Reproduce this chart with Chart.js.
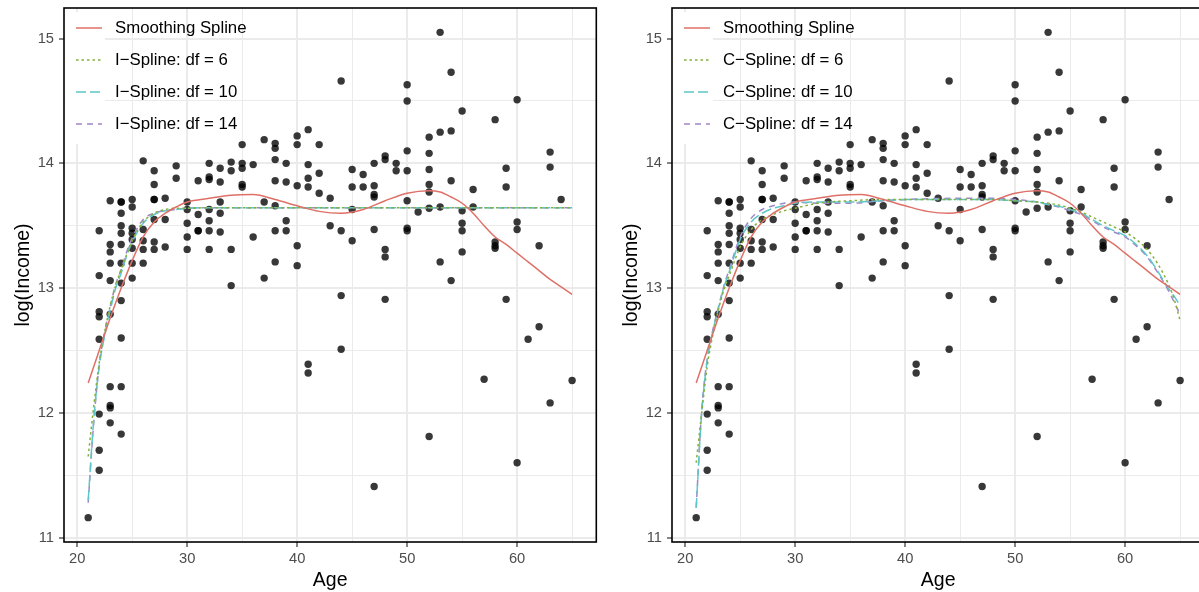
<!DOCTYPE html>
<html>
<head>
<meta charset="utf-8">
<script src="https://cdn.jsdelivr.net/npm/chart.js@4.4.1/dist/chart.umd.min.js"></script>
<style>
  html, body { margin: 0; padding: 0; background: #fff; overflow: hidden; width: 1199px; height: 592px; }
  .panel { position: absolute; top: 0; width: 600px; height: 592px; }
</style>
</head>
<body>
<div class="panel" style="left:0px"><canvas id="left" width="600" height="592"></canvas></div>
<div class="panel" style="left:608px"><canvas id="right" width="600" height="592"></canvas></div>
<script>
// observed points, grouped by age
const pointAges = [21, 22, 23, 24, 25, 26, 27, 28, 29, 30, 31, 32, 33, 34, 35, 36, 37, 38, 39, 40,
  41, 42, 43, 44, 45, 46, 47, 48, 49, 50, 51, 52, 53, 54, 55, 56, 57, 58, 59, 60, 61, 62, 63, 64, 65];
const pointIncomes = [
  [11.16],
  [13.46, 13.10, 12.81, 12.77, 12.59, 11.99, 11.70, 11.54],
  [13.70, 13.35, 13.29, 13.20, 13.06, 12.79, 12.21, 12.06, 12.04, 11.92],
  [13.69, 13.69, 13.60, 13.50, 13.44, 13.35, 13.20, 13.04, 12.90, 12.60, 12.21, 11.83],
  [13.71, 13.65, 13.48, 13.44, 13.39, 13.32, 13.20, 13.08],
  [14.02, 13.47, 13.38, 13.31, 13.20],
  [13.94, 13.83, 13.71, 13.71, 13.55, 13.37, 13.31],
  [13.72, 13.55, 13.33],
  [13.98, 13.88],
  [13.69, 13.63, 13.52, 13.41, 13.31],
  [13.86, 13.59, 13.46, 13.46],
  [14.00, 13.89, 13.87, 13.63, 13.54, 13.46, 13.31],
  [13.96, 13.85, 13.69, 13.60, 13.45],
  [14.01, 13.94, 13.31, 13.02],
  [14.15, 14.00, 13.96, 13.83, 13.81],
  [13.99, 13.41],
  [14.19, 13.69, 13.08],
  [14.16, 14.12, 14.03, 13.86, 13.66, 13.46, 13.21],
  [14.00, 13.85, 13.54, 13.46],
  [14.22, 14.15, 13.82, 13.34, 13.18],
  [14.27, 13.99, 13.88, 13.81, 12.39, 12.32],
  [14.15, 13.92, 13.76],
  [13.72, 13.50],
  [14.66, 13.46, 12.94, 12.51],
  [13.95, 13.81, 13.63, 13.38],
  [13.91, 13.81],
  [14.00, 13.82, 13.75, 13.73, 13.47, 11.41],
  [14.06, 14.03, 13.31, 13.25, 12.91],
  [14.00, 13.94],
  [14.63, 14.50, 14.10, 13.94, 13.70, 13.48, 13.46],
  [13.61],
  [14.21, 14.08, 13.95, 13.83, 13.77, 13.64, 11.81],
  [15.05, 14.25, 13.65, 13.21],
  [14.73, 14.26, 13.86, 13.06],
  [14.42, 13.62, 13.52, 13.46, 13.29],
  [13.79, 13.65],
  [12.27],
  [14.35, 13.37, 13.34, 13.32],
  [13.96, 13.81, 12.91],
  [14.51, 13.53, 13.47, 11.60],
  [12.59],
  [13.34, 12.69],
  [14.09, 13.97, 12.08],
  [13.71],
  [12.26]
];

// smoothing spline (both panels)
const smoothAge = [21, 22, 23, 24, 25, 26, 27, 28, 29, 30, 32, 34, 36, 38, 40, 42, 44, 46, 48,
  50, 52, 53, 54, 55, 56, 57, 58, 59, 60, 61, 62, 63, 64, 65];
const smoothFit = [12.24, 12.50, 12.76, 13.00, 13.22, 13.41, 13.53, 13.60, 13.65, 13.69, 13.72, 13.745,
  13.75, 13.71, 13.66, 13.615, 13.60, 13.63, 13.70, 13.76, 13.78, 13.77, 13.73, 13.68, 13.60, 13.50,
  13.41, 13.35, 13.28, 13.21, 13.14, 13.07, 13.01, 12.95];

// I-spline fits (left)
const iAge = [21, 21.5, 22, 22.5, 23, 23.5, 24, 24.5, 25, 26, 27, 28, 29, 30, 32, 35, 40, 50, 65];
const iDf6 = [11.65, 12.05, 12.40, 12.65, 12.86, 13.02, 13.15, 13.27, 13.38, 13.53, 13.60, 13.63, 13.64,
  13.64, 13.645, 13.645, 13.645, 13.645, 13.645];
const iDf10 = [11.30, 11.94, 12.37, 12.62, 12.82, 13.00, 13.12, 13.26, 13.37, 13.52, 13.59, 13.62, 13.63,
  13.64, 13.645, 13.645, 13.645, 13.645, 13.645];
const iDf14 = [11.28, 11.92, 12.38, 12.65, 12.85, 13.03, 13.15, 13.29, 13.40, 13.55, 13.60, 13.62, 13.63,
  13.64, 13.645, 13.645, 13.645, 13.645, 13.645];

// C-spline fits (right)
const cAge = [21, 21.5, 22, 22.5, 23, 23.5, 24, 25, 26, 27, 28, 29, 30, 32, 35, 38, 40, 45, 48, 50,
  52, 53, 54, 55, 56, 57, 58, 59, 60, 61, 62, 63, 64, 64.5, 65];
const cDf6 = [11.60, 12.00, 12.37, 12.62, 12.82, 12.98, 13.10, 13.33, 13.47, 13.55, 13.59, 13.62, 13.64,
  13.68, 13.70, 13.71, 13.71, 13.71, 13.71, 13.70, 13.69, 13.68, 13.665, 13.64, 13.61, 13.57, 13.53,
  13.49, 13.45, 13.39, 13.31, 13.19, 13.02, 12.90, 12.74];
const cDf10 = [11.24, 12.00, 12.42, 12.65, 12.83, 13.00, 13.13, 13.39, 13.53, 13.60, 13.64, 13.66, 13.68,
  13.69, 13.69, 13.70, 13.71, 13.71, 13.71, 13.70, 13.69, 13.67, 13.655, 13.63, 13.60, 13.55, 13.50,
  13.46, 13.42, 13.35, 13.26, 13.13, 12.99, 12.93, 12.86];
const cDf14 = [11.24, 12.02, 12.43, 12.66, 12.84, 13.01, 13.15, 13.41, 13.56, 13.63, 13.66, 13.68, 13.69,
  13.68, 13.68, 13.70, 13.71, 13.72, 13.72, 13.71, 13.69, 13.67, 13.65, 13.62, 13.59, 13.54, 13.49,
  13.45, 13.41, 13.34, 13.25, 13.12, 12.97, 12.88, 12.79];

const xTicks = [20, 25, 30, 35, 40, 45, 50, 55, 60, 65];
const yTicks = [11, 11.5, 12, 12.5, 13, 13.5, 14, 14.5, 15];

const FONT = "'Liberation Sans', Arial, sans-serif";
const GRID = '#EBEBEB';

function xy(xs, ys) {
  return xs.map((x, i) => ({ x: x, y: ys[i] }));
}

const scatterData = [];
pointAges.forEach((a, i) => pointIncomes[i].forEach(v => scatterData.push({ x: a, y: v })));

// legend + panel border drawn inside the plot area, ggplot-style
const panelDecor = {
  id: 'panelDecor',
  beforeDatasetsDraw(chart) {
    const { ctx, chartArea: ca } = chart;
    const lines = chart.data.datasets.filter(d => d.type === 'line');
    ctx.save();
    ctx.fillStyle = '#fff';
    ctx.fillRect(ca.left + 1, ca.top + 4, 40, 132);
    lines.forEach((d, i) => {
      const cy = ca.top + 20 + i * 32;
      ctx.strokeStyle = d.borderColor;
      ctx.lineWidth = d.borderWidth;
      ctx.setLineDash(d.borderDash || []);
      ctx.beginPath();
      ctx.moveTo(ca.left + 12, cy);
      ctx.lineTo(ca.left + 38, cy);
      ctx.stroke();
      ctx.setLineDash([]);
      ctx.fillStyle = '#000';
      ctx.font = '16.8px ' + FONT;
      ctx.textBaseline = 'middle';
      ctx.fillText(d.label, ca.left + 51, cy);
    });
    ctx.restore();
  },
  afterDraw(chart) {
    const { ctx, chartArea: ca } = chart;
    ctx.save();
    ctx.strokeStyle = '#000';
    ctx.lineWidth = 1.6;
    ctx.strokeRect(ca.left, ca.top, ca.right - ca.left, ca.bottom - ca.top);
    ctx.restore();
  }
};

function makeChart(id, prefix, ages, df6, df10, df14) {
  const line = (label, ys, xs, color, dash) => ({
    type: 'line', label: label, data: xy(xs, ys), borderColor: color, borderWidth: 1.5,
    borderDash: dash, pointRadius: 0, fill: false, cubicInterpolationMode: 'monotone'
  });
  new Chart(document.getElementById(id), {
    data: {
      datasets: [
        line('Smoothing Spline', smoothFit, smoothAge, '#DF7067', []),
        line(prefix + '\u2212Spline: df = 6', df6, ages, '#85B03C', [2.5, 3]),
        line(prefix + '\u2212Spline: df = 10', df10, ages, '#5EC6C8', [10, 4]),
        line(prefix + '\u2212Spline: df = 14', df14, ages, '#A086C8', [6, 5]),
        { type: 'scatter', label: 'points', data: scatterData, pointRadius: 3.7,
          pointHoverRadius: 3.7, backgroundColor: 'rgba(0,0,0,0.78)', borderWidth: 0 }
      ]
    },
    options: {
      responsive: false,
      animation: false,
      devicePixelRatio: 1,
      layout: { padding: { top: 8, right: 1.4, left: 0, bottom: 0 } },
      plugins: { legend: { display: false }, tooltip: { enabled: false } },
      scales: {
        x: {
          type: 'linear', min: 18.8, max: 67.2,
          afterBuildTicks: s => { s.ticks = xTicks.map(v => ({ value: v })); },
          afterFit: s => { s.height = 50; s.paddingLeft = 0; s.paddingRight = 0; },
          border: { display: false },
          grid: {
            color: GRID,
            lineWidth: c => (c.tick && c.tick.value % 10 === 0) ? 2 : 1,
            tickColor: c => (c.tick && c.tick.value % 10 === 0) ? '#333' : 'rgba(0,0,0,0)',
            tickLength: 5, tickWidth: 1.2
          },
          ticks: {
            autoSkip: false, maxRotation: 0, padding: 3, color: '#4D4D4D',
            font: { family: FONT, size: 14.7 },
            callback: v => (v % 10 === 0 ? String(v) : '')
          },
          title: { display: true, text: 'Age', color: '#000', font: { family: FONT, size: 19.5 },
            padding: { top: 0, bottom: 0 } }
        },
        y: {
          type: 'linear', min: 10.965, max: 15.245,
          afterBuildTicks: s => { s.ticks = yTicks.map(v => ({ value: v })); },
          afterFit: s => { s.width = 64; s.paddingTop = 0; s.paddingBottom = 0; },
          border: { display: false },
          grid: {
            color: GRID,
            lineWidth: c => (c.tick && Number.isInteger(c.tick.value)) ? 2 : 1,
            tickColor: c => (c.tick && Number.isInteger(c.tick.value)) ? '#333' : 'rgba(0,0,0,0)',
            tickLength: 5, tickWidth: 1.2
          },
          ticks: {
            autoSkip: false, padding: 5, color: '#4D4D4D',
            font: { family: FONT, size: 14.7 },
            callback: v => (Number.isInteger(v) ? String(v) : '')
          },
          title: { display: true, text: 'log(Income)', color: '#000', font: { family: FONT, size: 19.5 },
            padding: { top: 12, bottom: 0 } }
        }
      }
    },
    plugins: [panelDecor]
  });
}

makeChart('left', 'I', iAge, iDf6, iDf10, iDf14);
makeChart('right', 'C', cAge, cDf6, cDf10, cDf14);
</script>
</body>
</html>
